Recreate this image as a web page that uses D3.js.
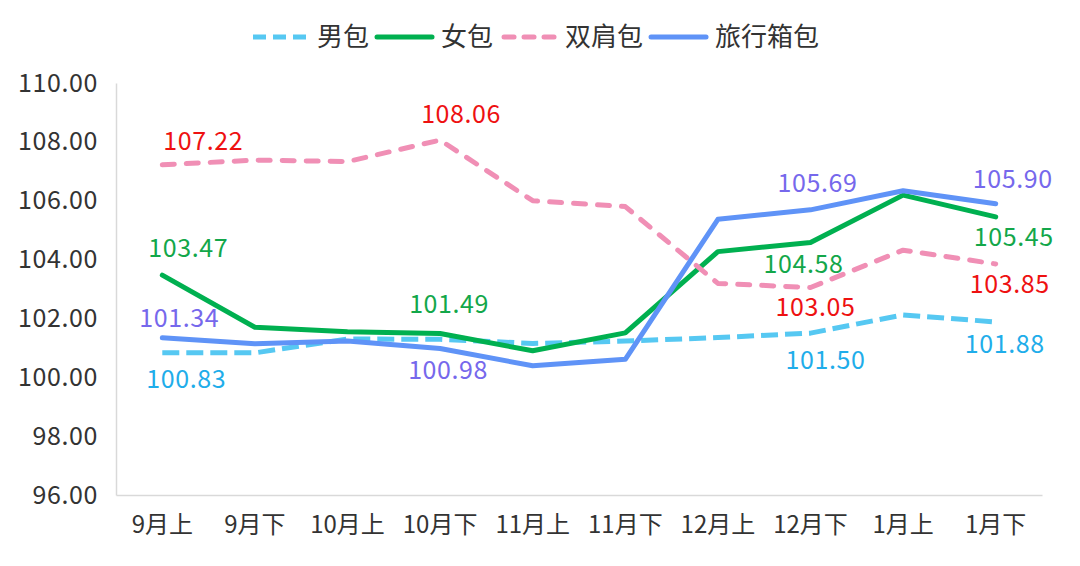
<!DOCTYPE html>
<html><head><meta charset="utf-8">
<script src="https://cdn.jsdelivr.net/npm/d3@7"></script>
<style>
html,body{margin:0;padding:0;background:#fff;}
text{font-family:"Noto Sans CJK SC","Noto Sans",sans-serif;}
</style>
</head><body>
<svg id="c" width="1080" height="566"></svg>
<script>
const categories = ["9月上","9月下","10月上","10月下","11月上","11月下","12月上","12月下","1月上","1月下"];
const yTicks = [96,98,100,102,104,106,108,110];
const seriesNames = ["男包","女包","双肩包","旅行箱包"];
const menBag      = [100.83,100.83,101.30,101.29,101.15,101.23,101.35,101.50,102.12,101.88];
const womenBag    = [103.47,101.70,101.55,101.49,100.90,101.51,104.27,104.58,106.19,105.45];
const backpack    = [107.22,107.38,107.33,108.06,106.00,105.80,103.19,103.05,104.32,103.85];
const luggage     = [101.34,101.14,101.23,100.98,100.39,100.61,105.37,105.69,106.34,105.90];
// indices that carry a data label
const menLabels = [0,7,9];
const womenLabels = [0,3,7,9];
const backpackLabels = [0,3,7,9];
const luggageLabels = [0,3,7,9];

// styles (kept separate from data)
const styles = [
  {color:"#56c8f2", text:"#1fadea", dash:"17,7", cap:"butt",
   off:{0:[24,35],7:[15,36],9:[9,31]}},
  {color:"#00b050", text:"#13a74a", dash:null, cap:"round",
   off:{0:[26,-18],3:[9,-20],7:[-7,30],9:[18,29]}},
  {color:"#f08fb5", text:"#ee1111", dash:"12,12", cap:"round",
   off:{0:[41,-15],3:[21,-17],7:[5,28],9:[14,29]}},
  {color:"#5f93f7", text:"#7668ec", dash:null, cap:"round",
   off:{0:[17,-11],3:[8,31],7:[7,-18],9:[17,-16]}}
];
const seriesData = [menBag, womenBag, backpack, luggage];
const seriesLabels = [menLabels, womenLabels, backpackLabels, luggageLabels];
const numFont = "Noto Sans, sans-serif";

const svg = d3.select("#c");
const x = d3.scaleBand().domain(categories).range([116,1042]);
const y = d3.scaleLinear().domain([96,110]).range([495,83]);
const cx = c => x(c) + x.bandwidth()/2;

// axes
const yAxis = svg.append("g").attr("transform","translate(116,0)")
  .call(d3.axisLeft(y).tickValues(yTicks).tickFormat(d3.format(".2f")).tickSize(0).tickPadding(18));
yAxis.select(".domain").attr("stroke","#d9d9d9").attr("stroke-width",1.5);
yAxis.selectAll("text").attr("font-size",25).attr("fill","#333").attr("font-family",numFont)
  .attr("letter-spacing","0.6px");

const xAxis = svg.append("g").attr("transform","translate(0,495)")
  .call(d3.axisBottom(x).tickSize(0).tickPadding(21));
xAxis.select(".domain").attr("stroke","#d9d9d9").attr("stroke-width",1.5);
xAxis.selectAll("text").attr("font-size",24).attr("fill","#333");

// lines
const line = d3.line().x((d,i)=>cx(categories[i])).y(d=>y(d));
seriesData.forEach((data,si)=>{
  const st = styles[si];
  const p = svg.append("path").datum(data).attr("d",line)
    .attr("fill","none").attr("stroke",st.color).attr("stroke-width",5)
    .attr("stroke-linejoin","round").attr("stroke-linecap",st.cap);
  if(st.dash) p.attr("stroke-dasharray",st.dash);
});
// labels
seriesData.forEach((data,si)=>{
  const st = styles[si];
  seriesLabels[si].forEach(i=>{
    const o = st.off[i];
    svg.append("text").attr("x",cx(categories[i])+o[0]).attr("y",y(data[i])+o[1])
      .attr("text-anchor","middle").attr("font-size",25).attr("fill",st.text)
      .attr("font-family",numFont).attr("letter-spacing","0.6px")
      .text(d3.format(".2f")(data[i]));
  });
});

// legend
const lg = svg.append("g");
let lx = 253;
const ly = 37;
seriesNames.forEach((n,si)=>{
  const st = styles[si];
  const l = lg.append("line").attr("x1",lx).attr("x2",lx+55).attr("y1",ly).attr("y2",ly)
    .attr("stroke",st.color).attr("stroke-width",5).attr("stroke-linecap",st.cap);
  if(st.dash) l.attr("stroke-dasharray", si===0 ? "13,7" : "10,10");
  if(si===2) l.attr("x1",lx+3).attr("x2",lx+53);
  const t = lg.append("text").attr("x",lx+64).attr("y",ly).attr("dy","0.36em")
    .attr("font-size",26).attr("fill","#333").text(n);
  lx += 64 + t.node().getComputedTextLength() + 8;
});
</script>
</body></html>
